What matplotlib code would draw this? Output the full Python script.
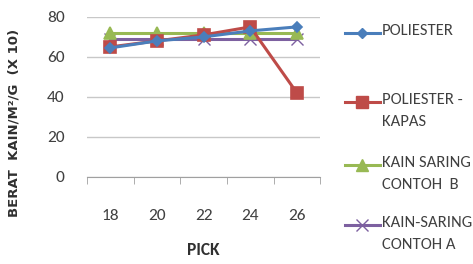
import matplotlib
matplotlib.use("Agg")
import matplotlib.pyplot as plt
from matplotlib.lines import Line2D

plt.rcParams['font.family'] = ['Carlito', 'DejaVu Sans']

pick = ['18', '20', '22', '24', '26']
poliester = [64.5, 68, 70, 73, 75]
poliester_kapas = [65, 68, 71, 75, 42]
saring_b = [72, 72, 72, 72, 72]
saring_a = [69, 69, 69, 69, 69]

series = [
    (poliester, 'POLIESTER', '#4a7ebb', 'D', 5.5),
    (poliester_kapas, 'POLIESTER -\nKAPAS', '#be4b48', 's', 8.5),
    (saring_b, 'KAIN SARING\nCONTOH  B', '#98b954', '^', 8.5),
    (saring_a, 'KAIN-SARING\nCONTOH A', '#7d60a0', 'x', 8.5),
]

fig = plt.figure(figsize=(4.73, 2.64), dpi=100)
ax = fig.add_axes([0.184, 0.330, 0.493, 0.606])

x = list(range(len(pick)))
for vals, lab, col, mk, ms in series[::-1]:
    ax.plot(x, vals, color=col, marker=mk, markersize=ms, linewidth=2.2,
            markeredgewidth=1.2 if mk != 'x' else 1.0)

ax.set_ylim(0, 80)
ax.set_yticks([0, 20, 40, 60, 80])
ax.set_xlim(-0.5, 4.5)
ax.set_xticks(x)
ax.set_xticklabels(pick)
ax.set_xticks([i - 0.5 for i in range(6)], minor=True)
ax.grid(axis='y', color='#c8c8c8', linewidth=1)
ax.set_axisbelow(True)
for s in ['top', 'right', 'left']:
    ax.spines[s].set_visible(False)
ax.spines['bottom'].set_color('#a0a0a0')
ax.tick_params(axis='x', which='major', length=0, pad=23, labelsize=12.5, labelcolor='#404040')
ax.tick_params(axis='x', which='minor', length=5, color='#a0a0a0')
ax.tick_params(axis='y', length=0, pad=16, labelsize=12.5, labelcolor='#404040')

ax.set_xlabel('PICK', fontsize=12.5, fontweight='bold', color='#303030', labelpad=14)
fig.text(0.03, 0.535, 'BERAT  KAIN/M²/G  (X 10)', rotation=90, fontsize=9.5,
         fontweight='bold', color='#303030', ha='center', va='center',
         family='DejaVu Sans')

# legend
ys = [33, 102, 165, 225]
for (vals, lab, col, mk, ms), yp in zip(series, ys):
    yf = 1 - yp / 264
    fig.add_artist(Line2D([345 / 473, 380 / 473], [yf, yf], color=col, linewidth=2.2,
                          transform=fig.transFigure))
    fig.add_artist(Line2D([362 / 473], [yf], color=col, marker=mk, markersize=ms,
                          transform=fig.transFigure))
    fig.text(382 / 473, yf + 0.034, lab, fontsize=12, color='#404040',
             va='top', ha='left', linespacing=1.75)

fig.savefig('out.png', dpi=100)
